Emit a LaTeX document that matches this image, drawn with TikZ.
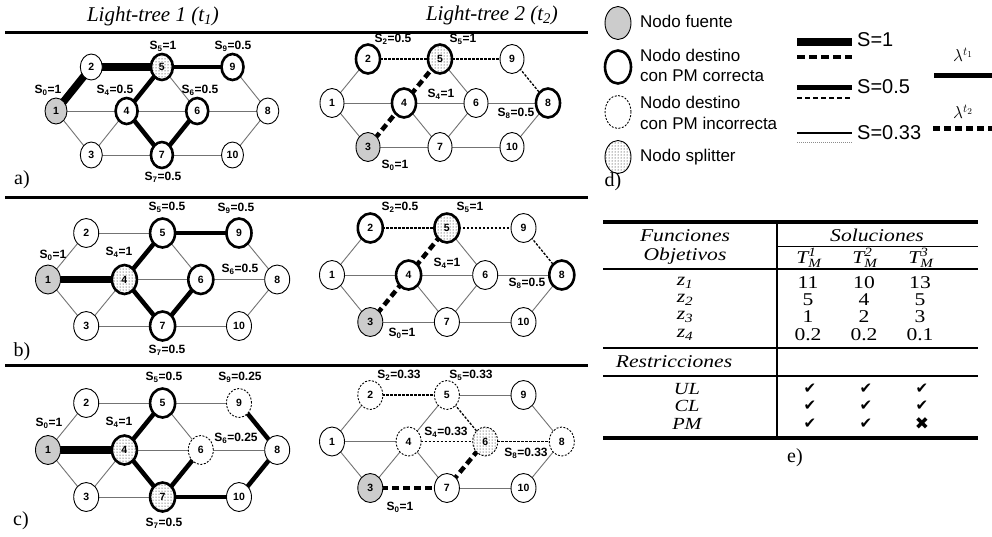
\documentclass[tikz,border=0pt]{standalone}
\usepackage{fontspec}
\usepackage{amsmath}
\setmainfont{Liberation Serif}
\newfontfamily\labf{Liberation Sans}
\newfontfamily\sansf{Liberation Sans}
\newfontfamily\tabf[FakeStretch=1.2]{Liberation Serif}
\newfontfamily\dvs{DejaVu Sans}
\usetikzlibrary{shapes.geometric,patterns}
\pgfdeclarelayer{bg}
\pgfsetlayers{bg,main}
\tikzset{
 nd/.style={ellipse, draw, line width=0.9pt, fill=white, inner sep=0pt,
   font=\labf\bfseries\fontsize{10.5}{10.5}\selectfont},
 src/.style={fill=black!20},
 dst/.style={line width=2.6pt},
 bad/.style={dash pattern=on 2pt off 1.5pt},
 split/.style={postaction={pattern=dots}},
 thinedge/.style={draw=black!55, line width=0.9pt},
 Sa/.style={draw=black, line width=7.5pt},
 Sb/.style={draw=black, line width=4.5pt},
 Da/.style={draw=black, line width=4.5pt, dash pattern=on 7pt off 4pt},
 Db/.style={draw=black, line width=1.3pt, dash pattern=on 2.5pt off 1.5pt},
 lbl/.style={font=\labf\bfseries\fontsize{12}{12}\selectfont, inner sep=0pt},
 ttl/.style={font=\fontsize{21}{21}\selectfont\itshape, inner sep=0pt},
 plab/.style={font=\fontsize{20}{20}\selectfont, inner sep=0pt},
 lgt/.style={font=\sansf\fontsize{17}{17}\selectfont, inner sep=0pt, anchor=west},
 lgs/.style={font=\sansf\fontsize{20}{20}\selectfont, inner sep=0pt, anchor=west},
 tb/.style={font=\tabf\fontsize{18}{18}\selectfont, inner sep=0pt},
 tbi/.style={font=\tabf\fontsize{18}{18}\selectfont\itshape, inner sep=0pt},
 tbr/.style={font=\tabf\fontsize{17}{17}\selectfont\itshape, inner sep=0pt},
 ck/.style={font=\dvs\fontsize{15}{15}\selectfont, inner sep=0pt},
 rulethick/.style={line width=3pt},
}
\newcommand\resetnet{\tikzset{st1/.style={},st2/.style={},st3/.style={},st4/.style={},
 st5/.style={},st6/.style={},st7/.style={},st8/.style={},st9/.style={},st10/.style={},
 e12/.style={thinedge},e14/.style={thinedge},e13/.style={thinedge},e25/.style={thinedge},
 e34/.style={thinedge},e37/.style={thinedge},e45/.style={thinedge},e46/.style={thinedge},
 e47/.style={thinedge},e59/.style={thinedge},e56/.style={thinedge},e67/.style={thinedge},
 e68/.style={thinedge},e710/.style={thinedge},e98/.style={thinedge},e108/.style={thinedge}}}
% #1 prefix #2 X #3 Y #4 half step #5 row step #6 node width #7 node height
\newcommand\drawnet[7]{%
 \node[nd,minimum width=#6pt,minimum height=#7pt,st1] (#1-1) at (#2,#3+#5) {1};
 \node[nd,minimum width=#6pt,minimum height=#7pt,st2] (#1-2) at (#2+#4,#3) {2};
 \node[nd,minimum width=#6pt,minimum height=#7pt,st5] (#1-5) at (#2+3*#4,#3) {5};
 \node[nd,minimum width=#6pt,minimum height=#7pt,st9] (#1-9) at (#2+5*#4,#3) {9};
 \node[nd,minimum width=#6pt,minimum height=#7pt,st4] (#1-4) at (#2+2*#4,#3+#5) {4};
 \node[nd,minimum width=#6pt,minimum height=#7pt,st6] (#1-6) at (#2+4*#4,#3+#5) {6};
 \node[nd,minimum width=#6pt,minimum height=#7pt,st8] (#1-8) at (#2+6*#4,#3+#5) {8};
 \node[nd,minimum width=#6pt,minimum height=#7pt,st3] (#1-3) at (#2+#4,#3+2*#5) {3};
 \node[nd,minimum width=#6pt,minimum height=#7pt,st7] (#1-7) at (#2+3*#4,#3+2*#5) {7};
 \node[nd,minimum width=#6pt,minimum height=#7pt,st10] (#1-10) at (#2+5*#4,#3+2*#5) {10};
 \begin{pgfonlayer}{bg}
 \draw[e12] (#1-1.center) -- (#1-2.center);
 \draw[e14] (#1-1.center) -- (#1-4.center);
 \draw[e13] (#1-1.center) -- (#1-3.center);
 \draw[e25] (#1-2.center) -- (#1-5.center);
 \draw[e34] (#1-3.center) -- (#1-4.center);
 \draw[e37] (#1-3.center) -- (#1-7.center);
 \draw[e45] (#1-4.center) -- (#1-5.center);
 \draw[e46] (#1-4.center) -- (#1-6.center);
 \draw[e47] (#1-4.center) -- (#1-7.center);
 \draw[e59] (#1-5.center) -- (#1-9.center);
 \draw[e56] (#1-5.center) -- (#1-6.center);
 \draw[e67] (#1-6.center) -- (#1-7.center);
 \draw[e68] (#1-6.center) -- (#1-8.center);
 \draw[e710] (#1-7.center) -- (#1-10.center);
 \draw[e98] (#1-9.center) -- (#1-8.center);
 \draw[e108] (#1-10.center) -- (#1-8.center);
 \end{pgfonlayer}}
\begin{document}
\begin{tikzpicture}[x=1pt,y=-1pt]
\useasboundingbox (0,0) rectangle (992,536);
\begin{pgfonlayer}{bg}
\fill[white] (0,0) rectangle (992,536);
\end{pgfonlayer}
% titles and rules
\node[ttl] (t1) at (153,16) {Light-tree 1 (t\textsubscript{1})};
\node[ttl] (t2) at (492,15) {Light-tree 2 (t\textsubscript{2})};
\coordinate (r1a) at (5,32); \coordinate (r1b) at (588,32);
\coordinate (r2a) at (5,197); \coordinate (r2b) at (588,197);
\coordinate (r3a) at (5,365); \coordinate (r3b) at (588,365);
\draw[rulethick] (r1a) -- (r1b);
\draw[rulethick] (r2a) -- (r2b);
\draw[rulethick] (r3a) -- (r3b);
\node[plab] (pa) at (22,180) {a)};
\node[plab] (pb) at (22,352) {b)};
\node[plab] (pc) at (21,521) {c)};
% ---- panel a left
\resetnet
\tikzset{st1/.style={src}, st5/.style={dst,split}, st4/.style={dst}, st6/.style={dst},
 st7/.style={dst}, st9/.style={dst}, e12/.style={Sa}, e25/.style={Sa}, e59/.style={Sb},
 e45/.style={Sb}, e47/.style={Sb}, e67/.style={Sb}}
\drawnet{aL}{56}{67}{35.3}{44}{22}{26}
\node[lbl] (aLs0) at (48,90) {S\textsubscript{0}=1};
\node[lbl] (aLs4) at (115,90) {S\textsubscript{4}=0.5};
\node[lbl] (aLs5) at (163,46) {S\textsubscript{5}=1};
\node[lbl] (aLs9) at (233,46) {S\textsubscript{9}=0.5};
\node[lbl] (aLs6) at (200,90) {S\textsubscript{6}=0.5};
\node[lbl] (aLs7) at (163,177) {S\textsubscript{7}=0.5};
% ---- panel a right
\resetnet
\tikzset{st3/.style={src}, st5/.style={dst,split}, st2/.style={dst}, st4/.style={dst},
 st8/.style={dst}, e34/.style={Da}, e45/.style={Da}, e25/.style={Db}, e59/.style={Db},
 e98/.style={Db}}
\drawnet{aR}{332}{59}{36}{44}{24}{29}
\node[lbl] (aRs2) at (393,39) {S\textsubscript{2}=0.5};
\node[lbl] (aRs5) at (463,39) {S\textsubscript{5}=1};
\node[lbl] (aRs4) at (441,94) {S\textsubscript{4}=1};
\node[lbl] (aRs8) at (516,113) {S\textsubscript{8}=0.5};
\node[lbl] (aRs0) at (395,165) {S\textsubscript{0}=1};
% ---- panel b left
\resetnet
\tikzset{st1/.style={src}, st4/.style={dst,split}, st5/.style={dst}, st6/.style={dst},
 st7/.style={dst}, st9/.style={dst}, e14/.style={Sa}, e45/.style={Sb}, e59/.style={Sb},
 e47/.style={Sb}, e67/.style={Sb}}
\drawnet{bL}{48}{233}{38.2}{46.5}{25}{29}
\node[lbl] (bLs5) at (167,207) {S\textsubscript{5}=0.5};
\node[lbl] (bLs9) at (236,208) {S\textsubscript{9}=0.5};
\node[lbl] (bLs0) at (53,255) {S\textsubscript{0}=1};
\node[lbl] (bLs4) at (119,252) {S\textsubscript{4}=1};
\node[lbl] (bLs6) at (240,269) {S\textsubscript{6}=0.5};
\node[lbl] (bLs7) at (167,350) {S\textsubscript{7}=0.5};
% ---- panel b right
\resetnet
\tikzset{st3/.style={src}, st5/.style={dst,split}, st2/.style={dst}, st4/.style={dst},
 st8/.style={dst}, e34/.style={Da}, e45/.style={Da}, e25/.style={Db}, e59/.style={Db},
 e98/.style={Db}}
\drawnet{bR}{332}{228}{38.3}{47}{25}{29}
\node[lbl] (bRs2) at (400,207) {S\textsubscript{2}=0.5};
\node[lbl] (bRs5) at (470,207) {S\textsubscript{5}=1};
\node[lbl] (bRs4) at (447,263) {S\textsubscript{4}=1};
\node[lbl] (bRs8) at (527,283) {S\textsubscript{8}=0.5};
\node[lbl] (bRs0) at (402,333) {S\textsubscript{0}=1};
% ---- panel c left
\resetnet
\tikzset{st1/.style={src}, st4/.style={dst,split}, st7/.style={dst,split}, st5/.style={dst},
 st9/.style={bad}, st6/.style={bad}, e14/.style={Sa}, e45/.style={Sb}, e47/.style={Sb},
 e67/.style={Sb}, e710/.style={Sb}, e108/.style={Sb}, e98/.style={Sb}}
\drawnet{cL}{48}{403}{38.2}{47}{25}{29}
\node[lbl] (cLs5) at (164,377) {S\textsubscript{5}=0.5};
\node[lbl] (cLs9) at (240,377) {S\textsubscript{9}=0.25};
\node[lbl] (cLs0) at (49,423) {S\textsubscript{0}=1};
\node[lbl] (cLs4) at (119,422) {S\textsubscript{4}=1};
\node[lbl] (cLs6) at (236,438) {S\textsubscript{6}=0.25};
\node[lbl] (cLs7) at (164,523) {S\textsubscript{7}=0.5};
% ---- panel c right
\resetnet
\tikzset{st3/.style={src}, st6/.style={bad,split}, st2/.style={bad}, st4/.style={bad},
 st5/.style={bad}, st8/.style={bad}, e37/.style={Da}, e67/.style={Da}, e56/.style={Db},
 e25/.style={Db}, e46/.style={Db}, e68/.style={Db}}
\drawnet{cR}{332}{395}{38.3}{46.5}{25}{29}
\node[lbl] (cRs2) at (399,375) {S\textsubscript{2}=0.33};
\node[lbl] (cRs5) at (471,375) {S\textsubscript{5}=0.33};
\node[lbl] (cRs4) at (446,432) {S\textsubscript{4}=0.33};
\node[lbl] (cRs8) at (526,453) {S\textsubscript{8}=0.33};
\node[lbl] (cRs0) at (400,507) {S\textsubscript{0}=1};
% ---- legend d)
\node[nd,minimum width=26pt,minimum height=33pt,src] (lg1) at (618,23) {};
\node[nd,minimum width=26pt,minimum height=33pt,dst] (lg2) at (618,67) {};
\node[nd,minimum width=26pt,minimum height=33pt,bad] (lg3) at (618,112) {};
\node[nd,minimum width=26pt,minimum height=33pt,split] (lg4) at (618,157) {};
\node[lgt] (lt1) at (640,21) {Nodo fuente};
\node[lgt] (lt2) at (640,55) {Nodo destino};
\node[lgt] (lt3) at (640,76) {con PM correcta};
\node[lgt] (lt4) at (640,102) {Nodo destino};
\node[lgt] (lt5) at (640,123) {con PM incorrecta};
\node[lgt] (lt6) at (640,157) {Nodo splitter};
\node[plab] (pd) at (613,182) {d)};
\coordinate (la1) at (797,42); \coordinate (lb1) at (852,42);
\coordinate (la2) at (797,57); \coordinate (lb2) at (852,57);
\coordinate (la3) at (797,87); \coordinate (lb3) at (852,87);
\coordinate (la4) at (797,98); \coordinate (lb4) at (852,98);
\coordinate (la5) at (797,133); \coordinate (lb5) at (852,133);
\coordinate (la6) at (797,142); \coordinate (lb6) at (852,142);
\draw[line width=8pt] (la1) -- (lb1);
\draw[line width=4pt, dash pattern=on 8pt off 4pt] (la2) -- (lb2);
\draw[line width=5pt] (la3) -- (lb3);
\draw[line width=2.5pt, dash pattern=on 5pt off 3pt] (la4) -- (lb4);
\draw[line width=1.8pt] (la5) -- (lb5);
\draw[line width=1pt, black!45, dash pattern=on 1pt off 1pt] (la6) -- (lb6);
\node[lgs] (ls1) at (857,40) {S=1};
\node[lgs] (ls2) at (857,87) {S=0.5};
\node[lgs] (ls3) at (857,133) {S=0.33};
\node[inner sep=0pt, font=\fontsize{18}{18}\selectfont] (lam1) at (963,55) {$\lambda^{t_1}$};
\node[inner sep=0pt, font=\fontsize{18}{18}\selectfont] (lam2) at (963,112) {$\lambda^{t_2}$};
\coordinate (lc1) at (934,75); \coordinate (ld1) at (992,75);
\coordinate (lc2) at (933,128); \coordinate (ld2) at (992,128);
\draw[line width=5pt] (lc1) -- (ld1);
\draw[line width=5pt, dash pattern=on 7pt off 4pt] (lc2) -- (ld2);
% ---- table e)
\coordinate (tL0) at (603,222); \coordinate (tR0) at (978,222);
\coordinate (tV0) at (777,222); \coordinate (tV1) at (777,438);
\coordinate (tS0) at (777,246); \coordinate (tS1) at (978,246);
\coordinate (tL1) at (603,269); \coordinate (tR1) at (978,269);
\coordinate (tL2) at (603,348); \coordinate (tR2) at (978,348);
\coordinate (tL3) at (603,376); \coordinate (tR3) at (978,376);
\coordinate (tL4) at (603,438); \coordinate (tR4) at (978,438);
\draw[line width=4pt] (tL0) -- (tR0);
\draw[line width=1.5pt] (tV0) -- (tV1);
\draw[line width=1pt] (tS0) -- (tS1);
\draw[line width=1.5pt] (tL1) -- (tR1);
\draw[line width=1.5pt] (tL2) -- (tR2);
\draw[line width=1.5pt] (tL3) -- (tR3);
\draw[line width=4pt] (tL4) -- (tR4);
\node[tbi] (fu) at (685,236) {Funciones};
\node[tbi] (ob) at (685,256) {Objetivos};
\node[tbi] (so) at (877,235) {Soluciones};
\node[tbi] (T1) at (809,258) {$\textit{T}^{\textit{1}}_{\textit{M}}$};
\node[tbi] (T2) at (865,258) {$\textit{T}^{\textit{2}}_{\textit{M}}$};
\node[tbi] (T3) at (921,258) {$\textit{T}^{\textit{3}}_{\textit{M}}$};
\node[tbi] (z1) at (685,283) {z\textsubscript{1}};
\node[tbi] (z2) at (685,300) {z\textsubscript{2}};
\node[tbi] (z3) at (685,317) {z\textsubscript{3}};
\node[tbi] (z4) at (685,335) {z\textsubscript{4}};
\node[tb] (v11) at (808,283) {11}; \node[tb] (v12) at (864,283) {10}; \node[tb] (v13) at (920,283) {13};
\node[tb] (v21) at (808,300) {5};  \node[tb] (v22) at (864,300) {4};  \node[tb] (v23) at (920,300) {5};
\node[tb] (v31) at (808,317) {1};  \node[tb] (v32) at (864,317) {2};  \node[tb] (v33) at (920,317) {3};
\node[tb] (v41) at (808,335) {0.2}; \node[tb] (v42) at (864,335) {0.2}; \node[tb] (v43) at (920,335) {0.1};
\node[tbi] (re) at (674,362) {Restricciones};
\node[tbr] (ul) at (687,389) {UL};
\node[tbr] (cl) at (687,406) {CL};
\node[tbr] (pm) at (687,424) {PM};
\node[ck] (c11) at (810,389) {✔}; \node[ck] (c12) at (866,389) {✔}; \node[ck] (c13) at (922,389) {✔};
\node[ck] (c21) at (810,406) {✔}; \node[ck] (c22) at (866,406) {✔}; \node[ck] (c23) at (922,406) {✔};
\node[ck] (c31) at (810,424) {✔}; \node[ck] (c32) at (866,424) {✔};
\node[inner sep=0pt, font=\dvs\fontsize{17}{17}\selectfont] (c33) at (922,424) {✖};
\node[plab] (pe) at (795,458) {e)};
\end{tikzpicture}
\end{document}
